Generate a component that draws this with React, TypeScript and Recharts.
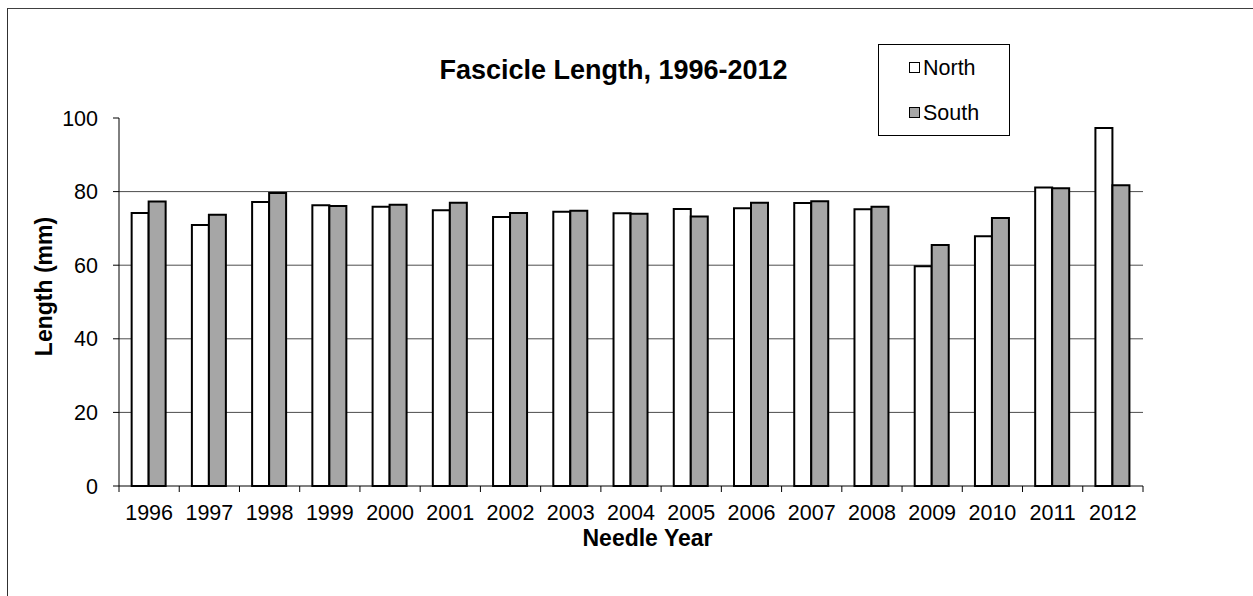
import React from 'react';
import {
  BarChart,
  Bar,
  XAxis,
  YAxis,
  CartesianGrid,
  Legend,
  Label
} from 'recharts';

// Needle years on the category axis
const years = ['1996', '1997', '1998', '1999', '2000', '2001', '2002', '2003', '2004',
  '2005', '2006', '2007', '2008', '2009', '2010', '2011', '2012'];

// Fascicle length (mm)
const north = [74.2, 70.9, 77.2, 76.3, 75.9, 74.9, 73.1, 74.5, 74.1, 75.3, 75.5, 76.9, 75.2, 59.7, 67.9, 81.1, 97.3];
const south = [77.3, 73.7, 79.6, 76.1, 76.4, 77.0, 74.2, 74.8, 74.0, 73.2, 77.0, 77.4, 75.9, 65.5, 72.8, 80.9, 81.7];

const yTicks = [0, 20, 40, 60, 80, 100];
const gridValues = [20, 40, 60, 80];

const FONT = "Arial, 'Liberation Sans', Helvetica, sans-serif";
const NORTH_FILL = '#ffffff';
const SOUTH_FILL = '#a6a6a6';

const data = years.map((year, i) => ({ year, North: north[i], South: south[i] }));

// x tick: label at band centre, tick marks at band edges (Excel style)
const YearTick = (props: any) => {
  const { x, y, payload, index, visibleTicksCount } = props;
  const half = payload.offset ?? 30;
  const axisY = y - 19;
  return (
    <g>
      <line x1={x - half} x2={x - half} y1={axisY} y2={axisY + 6} stroke="#000" />
      {index === visibleTicksCount - 1 && (
        <line x1={x + half} x2={x + half} y1={axisY} y2={axisY + 6} stroke="#000" />
      )}
      <text x={x} y={y} dy="0.71em" textAnchor="middle" fontSize={21.5} fontFamily={FONT} fill="#000">
        {payload.value}
      </text>
    </g>
  );
};

const LegendBox = () => (
  <div style={{
    width: 130, height: 90, border: '1px solid #000', background: '#fff',
    fontFamily: FONT, fontSize: 21.5, color: '#000'
  }}>
    {[{ name: 'North', fill: NORTH_FILL }, { name: 'South', fill: SOUTH_FILL }].map((item) => (
      <div key={item.name} style={{ height: 45, display: 'flex', alignItems: 'center', paddingLeft: 30 }}>
        <span style={{
          display: 'inline-block', width: 9, height: 9, border: '1.5px solid #000',
          background: item.fill, marginRight: 3
        }} />
        <span style={{ lineHeight: '22px' }}>{item.name}</span>
      </div>
    ))}
  </div>
);

const App: React.FC = () => {
  return (
    <div style={{ position: 'relative', width: 1245, height: 587, marginTop: 1, background: '#fff' }}>
      <style>{'body{overflow:hidden}'}</style>
      <div style={{
        position: 'absolute', left: 0, width: 1211, top: 46, textAlign: 'center',
        fontFamily: FONT, fontSize: 27, fontWeight: 'bold', lineHeight: '30px', color: '#000'
      }}>
        Fascicle Length, 1996-2012
      </div>
      <BarChart
        width={1245}
        height={587}
        data={data}
        margin={{ top: 109, right: 110, bottom: 0, left: 0 }}
        barCategoryGap="21%"
        barGap={0}
      >
        <CartesianGrid vertical={false} horizontalValues={gridValues} stroke="#4d4d4d" strokeWidth={1} />
        <XAxis
          dataKey="year"
          height={110}
          interval={0}
          tickLine={false}
          tickSize={6}
          tickMargin={13}
          axisLine={{ stroke: '#000', strokeWidth: 1 }}
          tick={<YearTick />}
        >
          <Label
            content={({ viewBox }: any) => (
              <text
                x={viewBox.x + viewBox.width / 2 + 16.5}
                y={viewBox.y + 60}
                textAnchor="middle"
                fontSize={23}
                fontWeight="bold"
                fontFamily={FONT}
                fill="#000"
              >
                Needle Year
              </text>
            )}
          />
        </XAxis>
        <XAxis
          xAxisId="top"
          dataKey="year"
          orientation="top"
          height={0}
          tick={false}
          tickLine={false}
          axisLine={{ stroke: '#999999', strokeWidth: 1.5 }}
        />
        <YAxis
          width={111}
          domain={[0, 100]}
          ticks={yTicks}
          tickSize={6}
          tickMargin={15}
          axisLine={{ stroke: '#000', strokeWidth: 1 }}
          tickLine={{ stroke: '#000' }}
          tick={{ fontSize: 21.5, fontFamily: FONT, fill: '#000' }}
        >
          <Label
            content={({ viewBox }: any) => {
              const cx = 44;
              const cy = viewBox.y + viewBox.height / 2 - 15.5;
              return (
                <text
                  x={cx}
                  y={cy}
                  transform={`rotate(-90 ${cx} ${cy})`}
                  textAnchor="middle"
                  fontSize={23}
                  fontWeight="bold"
                  fontFamily={FONT}
                  fill="#000"
                >
                  Length (mm)
                </text>
              );
            }}
          />
        </YAxis>
        <YAxis
          yAxisId="right"
          orientation="right"
          width={0}
          domain={[0, 100]}
          tick={false}
          tickLine={false}
          axisLine={{ stroke: '#999999', strokeWidth: 1.5 }}
        />
        <Legend
          layout="vertical"
          align="center"
          verticalAlign="middle"
          content={() => <LegendBox />}
          wrapperStyle={{ position: 'absolute', left: 870, top: 35, width: 132, height: 92 }}
        />
        <Bar dataKey="North" fill={NORTH_FILL} stroke="#000" strokeWidth={2} isAnimationActive={false} />
        <Bar dataKey="South" fill={SOUTH_FILL} stroke="#000" strokeWidth={2} isAnimationActive={false} />
      </BarChart>
      {/* chart area frame: only its left and top edges fall inside the picture */}
      <div style={{
        position: 'fixed', left: 7, top: 8, width: 1400, height: 800, zIndex: 10,
        borderLeft: '1.5px solid #303030', borderTop: '1px solid #404040', pointerEvents: 'none'
      }} />
    </div>
  );
};

export default App;
